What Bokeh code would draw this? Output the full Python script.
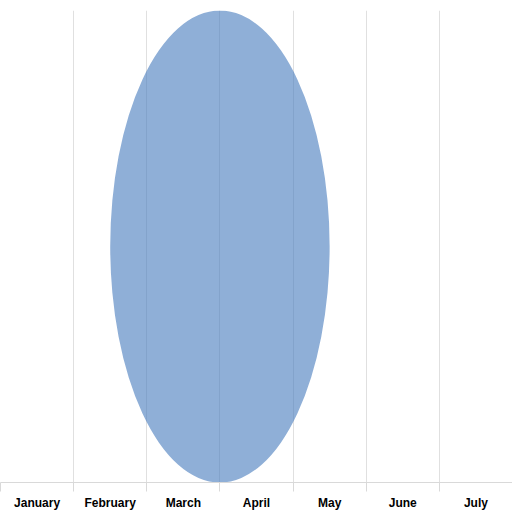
from bokeh.plotting import figure
from bokeh.models import FactorRange, Range1d, FixedTicker, LinearAxis, CategoricalAxis, Grid, ColumnDataSource
from bokeh.embed import file_html
from bokeh.resources import INLINE

months = ["January", "February", "March", "April", "May", "June", "July"]
ellipse_center = [("March", 0.5)]
ellipse_y = [0.5]
ellipse_width = [3]
ellipse_height = [1]

src = ColumnDataSource(dict(x=ellipse_center, y=ellipse_y, w=ellipse_width, h=ellipse_height))

p = figure(width=512, height=512, x_range=FactorRange(*months, range_padding=0),
           y_range=Range1d(0, 1), output_backend="svg", toolbar_location=None,
           x_axis_location=None, y_axis_location=None,
           min_border_left=0, min_border_right=0, min_border_top=10, min_border_bottom=0)
p.outline_line_color = None
p.background_fill_color = "white"
p.border_fill_color = "white"
p.xgrid.visible = False
p.ygrid.visible = False

boundaries = list(range(len(months) + 1))
grid = Grid(dimension=0, ticker=FixedTicker(ticks=boundaries),
            grid_line_color="#e0e0e0", grid_line_width=1)
p.add_layout(grid)

p.ellipse(x="x", y="y", width="w", height="h", source=src,
          fill_color="#4a7ebf", fill_alpha=0.62, line_color=None)

tick_axis = LinearAxis(ticker=FixedTicker(ticks=boundaries),
                       axis_line_color="#d9d9d9", major_tick_line_color="#d9d9d9",
                       major_tick_out=9, major_tick_in=0, minor_tick_line_color=None,
                       major_label_overrides={b: "" for b in boundaries},
                       major_label_text_font_size="1px", major_label_standoff=0)
p.add_layout(tick_axis, "below")

label_axis = CategoricalAxis(axis_line_color=None, major_tick_line_color=None,
                             minor_tick_line_color=None, major_label_standoff=-2,
                             major_label_text_font="Liberation Sans",
                             major_label_text_font_style="bold",
                             major_label_text_font_size="12px",
                             major_label_text_color="#000000")
p.add_layout(label_axis, "below")

open("out.html", "w").write(file_html(p, INLINE))
